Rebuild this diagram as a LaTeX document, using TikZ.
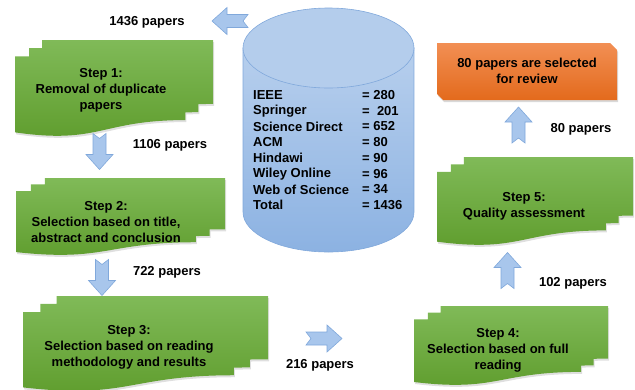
\documentclass[tikz,border=0pt]{standalone}
\usepackage{fontspec}
\setmainfont{Liberation Sans}
\usetikzlibrary{shadows}
\definecolor{leafgreen}{RGB}{128,186,88}
\definecolor{darkleaf}{RGB}{94,156,44}
\definecolor{skyblue}{RGB}{183,207,237}
\definecolor{deepsky}{RGB}{140,178,226}
\definecolor{skyedge}{RGB}{128,168,219}
\definecolor{arrowblue}{RGB}{168,198,236}
\definecolor{pumpkin}{RGB}{242,143,84}
\definecolor{darkpumpkin}{RGB}{227,106,28}
\def\grn{leafgreen}
\def\dgrn{darkleaf}
\def\bodyfont{\bfseries\fontsize{13}{16}\selectfont}
\tikzstyle{stepdoc}=[top color=\grn, bottom color=\dgrn, draw=none, nonzero rule,
                  drop shadow={opacity=0.25,shadow xshift=1pt,shadow yshift=-2pt}]
\tikzstyle{steptext}=[align=center, text=black, font=\bodyfont, inner sep=0pt]
\tikzstyle{count}=[text=black, font=\bodyfont, inner sep=0pt]
\tikzstyle{dbentry}=[anchor=west, text=black, font=\bodyfont, inner sep=0pt]
\tikzstyle{blockarrow}=[draw=skyedge, fill=arrowblue, line width=0.6pt, line join=miter]
\tikzstyle{dbbody}=[draw=skyedge, top color=skyblue, bottom color=deepsky, line width=0.6pt]
\tikzstyle{dbtop}=[draw=skyedge, fill=skyblue!92!deepsky, line width=0.6pt]
\tikzstyle{finalbox}=[draw=none, top color=pumpkin, bottom color=darkpumpkin,
                  drop shadow={opacity=0.3,shadow xshift=1pt,shadow yshift=-2pt}]

% stack of three pages: left, top, width, height
\newcommand{\multidoc}[4]{%
  \begin{scope}[shift={(#1,#2)}, x=#3pt, y=-#4pt]
    \path[stepdoc] (0.1376,0) -- (1,0) -- (1,0.666)
      .. controls (0.569,0.666) and (0.569,0.922) .. (0.1376,0.794) -- cycle
      (0.071,0.084) -- (0.926,0.084) -- (0.926,0.752)
      .. controls (0.4985,0.752) and (0.4985,1.008) .. (0.071,0.880) -- cycle
      (0,0.170) -- (0.861,0.170) -- (0.861,0.834)
      .. controls (0.4305,0.834) and (0.4305,1.09) .. (0,0.962) -- cycle;
  \end{scope}}

% notched block arrow: centre x, centre y, angle
\newcommand{\notcharrow}[3]{%
  \begin{scope}[shift={(#1,#2)}, rotate=#3]
    \path[blockarrow] (-18,6.5) -- (3,6.5) -- (3,13.5) -- (18,0) -- (3,-13.5)
      -- (3,-6.5) -- (-18,-6.5) -- (-13,0) -- cycle;
  \end{scope}}

\begin{document}
\begin{tikzpicture}[x=1pt, y=-1pt]
  \useasboundingbox (0,0) rectangle (635,389);

  % Place the database
  \path[dbbody] (243,48) -- (243,212)
    arc[start angle=180, end angle=0, x radius=85.5, y radius=40] -- (414,48) -- cycle;
  \path[dbtop] (328.5,48) ellipse [x radius=85.5, y radius=40];
  \foreach \src/\num [count=\i] in {IEEE/280, Springer/{\ 201}, Science Direct/652,
           ACM/80, Hindawi/90, Wiley Online/96, Web of Science/34, Total/1436}{
    \node[dbentry] (src\i) at (253,{95+(\i-1)*15.75}) {\src};
    \node[dbentry] (num\i) at (362,{95+(\i-1)*15.75}) {= \num};
  }

  % Place the steps
  \multidoc{15}{40}{198}{96}
  \multidoc{16}{178}{209}{77}
  \multidoc{23}{296}{245}{95}
  \multidoc{414}{306}{194}{79}
  \multidoc{437}{157}{196}{88}
  \path[finalbox] (437,43) -- (610,43) -- (617,50) -- (617,100) -- (443,100)
    -- (437,94) -- cycle;

  \node[steptext] (step1) at (101,90) {Step 1:\\Removal of duplicate\\papers};
  \node[steptext] (step2) at (106,222) {Step 2:\\Selection based on title,\\abstract and conclusion};
  \node[steptext] (step3) at (129,347) {Step 3:\\Selection based on reading\\methodology and results};
  \node[steptext] (step4) at (498,350) {Step 4:\\Selection based on full\\reading};
  \node[steptext] (step5) at (524,206) {Step 5:\\Quality assessment};
  \node[steptext] (final) at (527,71) {80 papers are selected\\for review};

  % Place the arrows and counts
  \notcharrow{230}{21}{180}
  \notcharrow{99.5}{151.5}{270}
  \notcharrow{102}{277.5}{270}
  \notcharrow{324}{338.5}{0}
  \notcharrow{507.5}{270.5}{90}
  \notcharrow{518.5}{125}{90}

  \node[count] (n1436) at (147,22) {1436 papers};
  \node[count] (n1106) at (170,145) {1106 papers};
  \node[count] (n722) at (167,272) {722 papers};
  \node[count] (n216) at (320,365) {216 papers};
  \node[count] (n102) at (573,283) {102 papers};
  \node[count] (n80) at (581,129) {80 papers};
\end{tikzpicture}
\end{document}
